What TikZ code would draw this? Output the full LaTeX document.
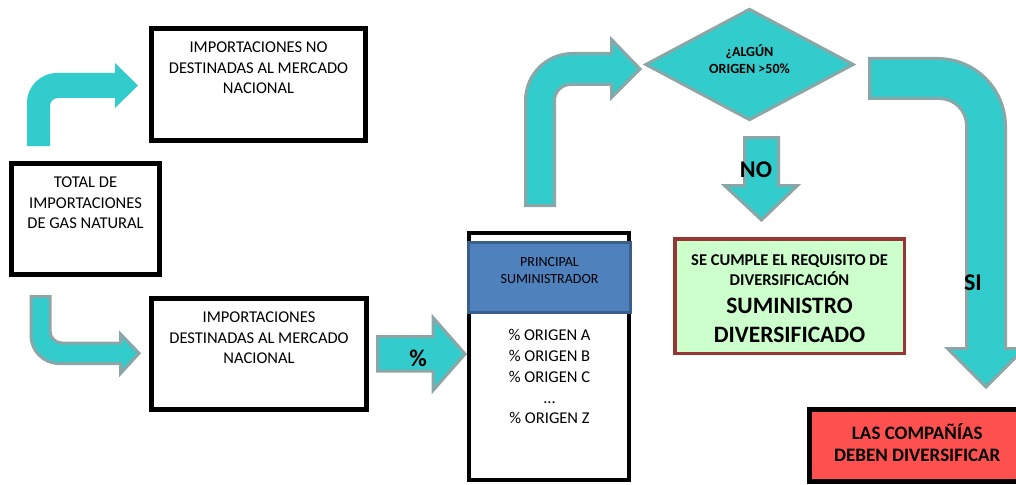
\documentclass[tikz,border=0pt]{standalone}
\usepackage{fontspec}
\setmainfont{Carlito}
\usepackage{tikz}
\usetikzlibrary{positioning,shapes.geometric}

\definecolor{turq}{HTML}{33CCCC}
\definecolor{rim}{HTML}{8AA6A6}
\definecolor{hdrfill}{HTML}{4F81BD}
\definecolor{hdrline}{HTML}{3A5F8C}
\definecolor{okfill}{HTML}{CCFFCC}
\definecolor{okline}{HTML}{953735}
\definecolor{badfill}{HTML}{FF5050}
\newcommand{\fsz}[2]{\fontsize{#1}{#2}\selectfont}

\begin{document}
\begin{tikzpicture}[
    x=1pt, y=-1pt,
    box/.style={draw, line width=5pt, inner sep=0pt},
    txt/.style={align=center, inner sep=0pt, font=\fsz{16.5}{20.5}},
    btxt/.style={align=center, inner sep=0pt, font=\bfseries\fsz{16.5}{20}},
    lbl/.style={inner sep=0pt, font=\bfseries\fsz{24}{29}},
    barr/.style={fill=turq, draw=rim, line width=3pt}
]
    \useasboundingbox (0,0) rectangle (1016,484);
    \clip (0,0) rectangle (1016,484);

    % block arrows
    \fill[turq] (27,146) -- (27,103) arc[start angle=180, end angle=270, radius=30]
        -- (115,73) -- (115,63) -- (138,85.5) -- (115,108) -- (115,98)
        -- (58,98) arc[start angle=270, end angle=180, radius=8] -- (50,146) -- cycle;
    \draw[barr] (31,296.5) -- (31,335.5) arc[start angle=180, end angle=90, radius=28]
        -- (120.5,363.5) -- (120.5,373.5) -- (139,353.25) -- (120.5,334) -- (120.5,343)
        -- (62,343) arc[start angle=90, end angle=180, radius=12] -- (50,296.5) -- cycle;
    \draw[barr] (377.5,336.5) -- (433,336.5) -- (433,317.5) -- (465,354)
        -- (433,390.5) -- (433,371) -- (377.5,371) -- cycle;
    \draw[barr] (525.5,205.5) -- (525.5,100.5) arc[start angle=180, end angle=270, radius=47]
        -- (611.5,53.5) -- (611.5,39.5) -- (640,69) -- (611.5,97.5) -- (611.5,84.5)
        -- (570.5,84.5) arc[start angle=270, end angle=180, radius=16] -- (554.5,205.5) -- cycle;
    \draw[barr] (744.5,137.5) -- (778.5,137.5) -- (778.5,185.5) -- (797.5,185.5)
        -- (761.5,220) -- (724.5,185.5) -- (744.5,185.5) -- cycle;
    \draw[barr] (869.5,58.5) -- (937.5,58.5) arc[start angle=270, end angle=360, radius=68]
        -- (1005.5,348.5) -- (1024.5,348.5) -- (986,387) -- (947.5,348.5) -- (966.5,348.5)
        -- (966.5,125.5) arc[start angle=0, end angle=-90, radius=27] -- (869.5,98.5) -- cycle;

    \node[box, minimum width=214pt, minimum height=112pt] (nodest) at (258.5,84.5) {};
    \node[txt, below=16pt of nodest.north] (nodesttxt) {IMPORTACIONES NO\\DESTINADAS AL MERCADO\\NACIONAL};
    \node[box, minimum width=148pt, minimum height=111pt] (total) at (85.5,218.9) {};
    \node[txt, below=16pt of total.north] (totaltxt) {TOTAL DE\\IMPORTACIONES\\DE GAS NATURAL};
    \node[box, minimum width=215pt, minimum height=111pt] (dest) at (259,353.7) {};
    \node[txt, below=16pt of dest.north] (desttxt) {IMPORTACIONES\\DESTINADAS AL MERCADO\\NACIONAL};

    \node[box, line width=4pt, minimum width=160pt, minimum height=247pt] (princ) at (549,356.5) {};
    \node[draw=hdrline, fill=hdrfill, line width=3pt, minimum width=162pt, minimum height=70pt] (head) at (549.5,277.5) {};
    \node[txt, font=\fsz{14}{16.5}, below=16.5pt of head.north] (headtxt) {PRINCIPAL\\SUMINISTRADOR};
    \node[txt, font=\fsz{16.5}{20.75}, below=15.5pt of head.south] (list) {\% ORIGEN A\\\% ORIGEN B\\\% ORIGEN C\\...\\\% ORIGEN Z};

    \node[diamond, barr, minimum width=208.6pt, minimum height=111.6pt, inner sep=0pt] (cond) at (749.5,64.5) {};
    \node[btxt, font=\bfseries\fsz{14}{17}, below=37.5pt of cond.north] (condtxt) {¿ALGÚN\\ORIGEN >50\%};

    \node[draw=okline, fill=okfill, line width=3.5pt, minimum width=229.5pt, minimum height=114.5pt] (ok) at (789.5,296) {};
    \node[btxt, below=17.5pt of ok.north] (oktxt) {SE CUMPLE EL REQUISITO DE\\DIVERSIFICACIÓN\\[8pt]{\fsz{23.5}{29}SUMINISTRO}\\[9pt]{\fsz{23.5}{29}DIVERSIFICADO}};

    \node[box, fill=badfill, minimum width=215.5pt, minimum height=72pt] (must) at (917.25,445.5) {};
    \node[btxt, font=\bfseries\fsz{19}{22.5}, below=16pt of must.north] (musttxt) {LAS COMPAÑÍAS\\DEBEN DIVERSIFICAR};

    \node[lbl] (no) at (756,170) {NO};
    \node[lbl] (si) at (973,283) {SI};
    \node[lbl] (pct) at (418,358) {\%};
\end{tikzpicture}
\end{document}
